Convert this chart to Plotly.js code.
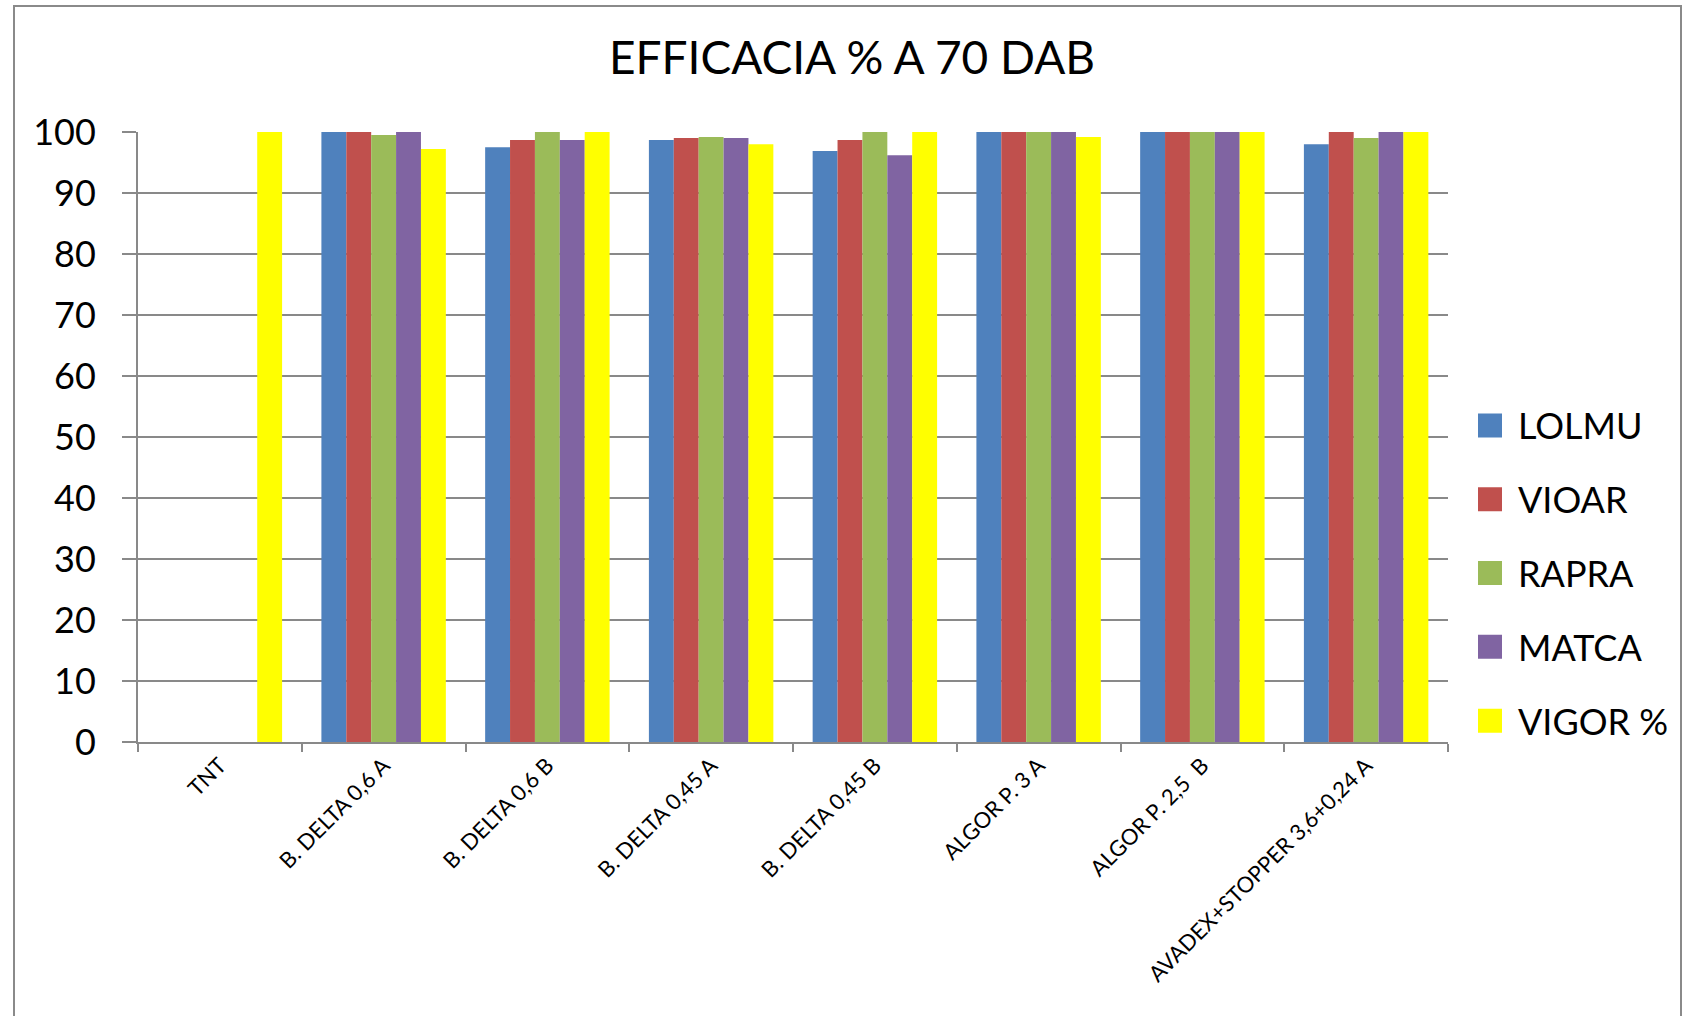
<!DOCTYPE html>
<html>
<head>
<meta charset="utf-8">
<script src="https://cdn.plot.ly/plotly-3.0.1.min.js"></script>
<style>
  html, body { margin: 0; padding: 0; background: #fff; }
  #wrap { position: relative; width: 1686px; height: 1016px; overflow: hidden; }
  #frame { position: absolute; left: 13px; top: 5px; width: 1669px; height: 1100px; border: 2px solid #8a8a8a; box-sizing: border-box; }
  #chart { position: absolute; left: 0; top: 0; width: 1686px; height: 1016px; }
</style>
</head>
<body>
<div id="wrap">
  <div id="frame"></div>
  <div id="chart"></div>
</div>
<script>
const categories = ["TNT", "B. DELTA 0,6 A", "B. DELTA 0,6 B", "B. DELTA 0,45 A", "B. DELTA 0,45 B", "ALGOR P. 3 A", "ALGOR P. 2,5  B", "AVADEX+STOPPER 3,6+0,24 A"];
const seriesNames = ["LOLMU", "VIOAR", "RAPRA", "MATCA", "VIGOR %"];
const LOLMU = [0, 100, 97.5, 98.7, 96.9, 100, 100, 98.0];
const VIOAR = [0, 100, 98.7, 99.0, 98.7, 100, 100, 100];
const RAPRA = [0, 99.5, 100, 99.2, 100, 100, 100, 99.0];
const MATCA = [0, 100, 98.7, 99.0, 96.2, 100, 100, 100];
const VIGOR = [100, 97.2, 100, 98.0, 100, 99.2, 100, 100];
const yTicks = [0, 10, 20, 30, 40, 50, 60, 70, 80, 90, 100];
const colors = ["#4f81bd", "#c0504d", "#9bbb59", "#8064a2", "#ffff00"];

const seriesValues = [LOLMU, VIOAR, RAPRA, MATCA, VIGOR];
const FONT = "Lato, 'Open Sans', sans-serif";
const traces = seriesValues.map((vals, i) => ({
  type: "bar",
  name: seriesNames[i],
  x: categories,
  y: vals,
  legendgroup: "g" + i,
  marker: { color: colors[i], line: { width: 0 } },
  hoverinfo: "x+y+name"
}));

const grid = "#898989";
const layout = {
  width: 1686,
  height: 1016,
  paper_bgcolor: "rgba(0,0,0,0)",
  plot_bgcolor: "rgba(0,0,0,0)",
  margin: { l: 138, r: 236, t: 132, b: 274, pad: 0 },
  font: { family: FONT, color: "#000" },
  title: {
    text: "EFFICACIA % A 70 DAB",
    font: { family: FONT, size: 46, color: "#000" },
    x: 852 / 1686, xanchor: "center", xref: "container",
    y: 1 - 58 / 1016, yanchor: "middle", yref: "container"
  },
  barmode: "group",
  bargap: 0.24,
  bargroupgap: 0,
  showlegend: true,
  legend: {
    x: 1.0229, xanchor: "left",
    y: 0.277, yanchor: "middle",
    font: { family: FONT, size: 36, color: "#000" },
    traceorder: "grouped",
    tracegroupgap: 24,
    bgcolor: "rgba(0,0,0,0)",
    borderwidth: 0
  },
  xaxis: {
    type: "category",
    categoryorder: "array",
    categoryarray: categories,
    tickson: "boundaries",
    ticks: "outside",
    ticklen: 8,
    tickwidth: 2,
    tickcolor: grid,
    showline: true,
    linecolor: grid,
    linewidth: 2,
    showgrid: false,
    tickangle: -45,
    tickfont: { family: FONT, size: 22, color: "#000" },
    fixedrange: true
  },
  yaxis: {
    range: [0, 100],
    tickvals: yTicks,
    ticktext: yTicks.map(String),
    ticks: "outside",
    ticklen: 14,
    tickwidth: 2,
    tickcolor: grid,
    showline: true,
    linecolor: grid,
    linewidth: 2,
    showgrid: true,
    gridcolor: grid,
    gridwidth: 2,
    zeroline: false,
    ticklabelstandoff: 19,
    tickfont: { family: FONT, size: 36, color: "#000" },
    fixedrange: true
  }
};

Plotly.newPlot("chart", traces, layout, { displayModeBar: false, staticPlot: true }).then(gd => {
  document.querySelectorAll("#chart .legend .legendpoints path").forEach(p => {
    p.setAttribute("d", "M4,12H-20V-12H4Z");
  });
});
</script>
</body>
</html>
